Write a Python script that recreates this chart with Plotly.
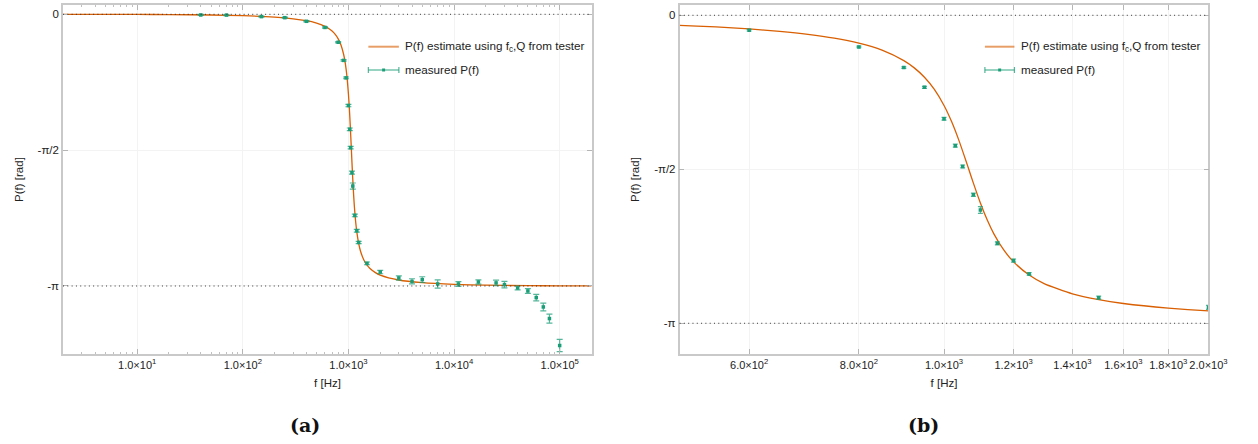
import plotly.graph_objects as go
import math

# ---------------- data ----------------
# phase estimate from the tester's f_c and Q, sampled along frequency
curve_f = [2, 5, 10, 20, 50, 100, 200, 300, 400, 500, 550, 600, 650, 700, 750,
           800, 850, 900, 925, 950, 975, 1000, 1020, 1040, 1060, 1067, 1080,
           1100, 1120, 1140, 1170, 1200, 1250, 1300, 1400, 1500, 1600, 1800,
           2000, 3000, 5000, 10000, 20000, 50000, 100000, 200000]
curve_p = [-0.0003, -0.0008, -0.0016, -0.0032, -0.0080, -0.0161, -0.0331,
           -0.0520, -0.0742, -0.1019, -0.1190, -0.1392, -0.1636, -0.1938,
           -0.2324, -0.2838, -0.3556, -0.4621, -0.5363, -0.6317, -0.7563,
           -0.9197, -1.0842, -1.2785, -1.4937, -1.5708, -1.7120, -1.9143,
           -2.0884, -2.2317, -2.3962, -2.5153, -2.6497, -2.7368, -2.8412,
           -2.9010, -2.9398, -2.9871, -3.0152, -3.0723, -3.1035, -3.1232,
           -3.1325, -3.1380, -3.1398, -3.1407]

# measured phase with its uncertainty
meas_f = [40, 70, 150, 250, 400, 600, 800, 900, 950, 1000, 1030, 1050, 1080,
          1100, 1150, 1200, 1250, 1500, 2000, 3000, 4000, 5000, 7000, 11000,
          17000, 25000, 30000, 40000, 50000, 60000, 70000, 80000, 100000]
meas_p = [-0.008, -0.009, -0.027, -0.039, -0.081, -0.152, -0.323, -0.533,
          -0.735, -1.055, -1.330, -1.542, -1.831, -1.986, -2.326, -2.502,
          -2.638, -2.880, -2.980, -3.049, -3.088, -3.068, -3.118, -3.118,
          -3.095, -3.106, -3.126, -3.164, -3.199, -3.276, -3.384, -3.518,
          -3.830]
meas_err = [0.006, 0.006, 0.006, 0.006, 0.007, 0.008, 0.008, 0.008, 0.010,
            0.014, 0.015, 0.015, 0.017, 0.035, 0.015, 0.016, 0.013, 0.016,
            0.020, 0.025, 0.030, 0.033, 0.048, 0.028, 0.025, 0.033, 0.038,
            0.022, 0.028, 0.038, 0.045, 0.052, 0.070]

# tick labels
ticks_a = [10, 100, 1000, 10000, 100000]
labels_a = ["1.0×10<sup>1</sup>", "1.0×10<sup>2</sup>", "1.0×10<sup>3</sup>",
            "1.0×10<sup>4</sup>", "1.0×10<sup>5</sup>"]
ticks_b = [600, 800, 1000, 1200, 1400, 1600, 1800, 2000]
labels_b = ["6.0×10<sup>2</sup>", "8.0×10<sup>2</sup>", "1.0×10<sup>3</sup>",
            "1.2×10<sup>3</sup>", "1.4×10<sup>3</sup>", "1.6×10<sup>3</sup>",
            "1.8×10<sup>3</sup>", "2.0×10<sup>3</sup>"]
ytick_vals = [0, -math.pi / 2, -math.pi]
ytick_text = ["0", "-π/2", "-π"]

# ---------------- style ----------------
ORANGE = "#d95f02"
GREEN = "#1b9e77"
GREEN_BAR = "rgba(27,158,119,0.75)"
FRAME = "#c9c9c9"
GRID = "#f3f3f3"
FONT = "Liberation Sans, Arial, sans-serif"
TXT = "#222"
W, H = 1258, 444

fig = go.Figure()


def add_panel(xa, ya, cap):
    fig.add_trace(go.Scatter(
        x=curve_f, y=curve_p, mode="lines", xaxis=xa, yaxis=ya,
        line=dict(color=ORANGE, width=1.3, shape="spline", smoothing=0.6),
        showlegend=False, hoverinfo="skip"))
    fig.add_trace(go.Scatter(
        x=meas_f, y=meas_p, mode="markers", xaxis=xa, yaxis=ya,
        marker=dict(color=GREEN, size=3.5, symbol="square"),
        error_y=dict(type="data", array=meas_err, color=GREEN_BAR,
                     thickness=1.2, width=cap),
        showlegend=False))


add_panel("x", "y", 3)
add_panel("x2", "y2", 2.5)

# minor ticks for the wide log axis
minor_a = [k * 10 ** n for n in range(0, 6) for k in range(2, 10)]

common_x = dict(type="log", showline=True, linecolor=FRAME, linewidth=1.5,
                mirror="allticks", ticks="inside", ticklen=5,
                tickcolor="#b5b5b5", showgrid=True, gridcolor=GRID,
                gridwidth=1, zeroline=False, tickmode="array", tickangle=0,
                tickfont=dict(family=FONT, size=11, color=TXT),
                title=dict(text="f [Hz]", standoff=9,
                           font=dict(family=FONT, size=11.5, color=TXT)))
common_y = dict(showline=True, linecolor=FRAME, linewidth=1.5,
                mirror="allticks", ticks="inside", ticklen=5,
                tickcolor="#b5b5b5", showgrid=True, gridcolor=GRID,
                zeroline=False, tickmode="array", tickvals=ytick_vals,
                ticktext=ytick_text,
                tickfont=dict(family=FONT, size=11.5, color=TXT),
                title=dict(text="P(f) [rad]", standoff=12,
                           font=dict(family=FONT, size=11.5, color=TXT)))

xd_a = [64 / W, 601 / W]
xd_b = [690 / W, 1227 / W]
yd = [1 - 354 / H, 1 - 5 / H]

fig.update_layout(
    width=W, height=H, margin=dict(l=0, r=0, t=0, b=0),
    paper_bgcolor="white", plot_bgcolor="white", showlegend=False,
    xaxis=dict(common_x, domain=xd_a, anchor="y",
               range=[math.log10(1.986), math.log10(2.02e5)],
               tickvals=ticks_a, ticktext=labels_a,
               minor=dict(tickmode="array", tickvals=minor_a, ticks="inside",
                          ticklen=2.5, tickcolor="#c0c0c0", showgrid=False)),
    yaxis=dict(common_y, domain=yd, anchor="x", range=[-3.928, 0.1075]),
    xaxis2=dict(common_x, domain=xd_b, anchor="y2",
                range=[math.log10(500), math.log10(2000)],
                tickvals=ticks_b, ticktext=labels_b),
    yaxis2=dict(common_y, domain=yd, anchor="x2", range=[-3.455, 0.105]),
)

# dotted reference lines at 0 and -pi
for xr, yr in (("x domain", "y"), ("x2 domain", "y2")):
    for yv in (0, -math.pi):
        fig.add_shape(type="line", xref=xr, yref=yr, x0=0, x1=1, y0=yv, y1=yv,
                      line=dict(color="#333", width=1, dash="1px,3.3px"),
                      layer="above")


# hand-drawn key in each panel
def px(x):
    return x / W


def py(y):
    return 1 - y / H


KEY_SIZE = 11.7


def add_key(x0, x1):
    y1, y2 = 46.7, 70.0
    fig.add_shape(type="line", xref="paper", yref="paper",
                  x0=px(x0), x1=px(x1), y0=py(y1), y1=py(y1),
                  line=dict(color="rgba(217,95,2,0.6)", width=2))
    fig.add_shape(type="line", xref="paper", yref="paper",
                  x0=px(x0), x1=px(x1), y0=py(y2), y1=py(y2),
                  line=dict(color=GREEN_BAR, width=1.2))
    for xc in (x0, x1):
        fig.add_shape(type="line", xref="paper", yref="paper",
                      x0=px(xc), x1=px(xc), y0=py(y2 - 3), y1=py(y2 + 3),
                      line=dict(color=GREEN_BAR, width=1.2))
    xm = (x0 + x1) / 2
    fig.add_shape(type="rect", xref="paper", yref="paper",
                  x0=px(xm - 1.5), x1=px(xm + 1.5), y0=py(y2 - 1.5),
                  y1=py(y2 + 1.5), line=dict(width=0), fillcolor=GREEN)
    fig.add_annotation(x=px(x1 + 4.5), y=py(y1), xref="paper", yref="paper",
                       xanchor="left", yanchor="middle", showarrow=False,
                       text="P(f) estimate using f<sub>c</sub>,Q from tester",
                       font=dict(family=FONT, size=KEY_SIZE, color=TXT))
    fig.add_annotation(x=px(x1 + 4.5), y=py(y2), xref="paper", yref="paper",
                       xanchor="left", yanchor="middle", showarrow=False,
                       text="measured P(f)",
                       font=dict(family=FONT, size=KEY_SIZE, color=TXT))


add_key(374, 405)
add_key(1000, 1030)

# panel captions
for xc, lab in ((310, "(a)"), (938, "(b)")):
    fig.add_annotation(x=px(xc), y=py(425), xref="paper", yref="paper",
                       xanchor="center", yanchor="middle", showarrow=False,
                       text="<b>" + lab + "</b>",
                       font=dict(family="DejaVu Serif, serif", size=19,
                                 color="#111"))

fig.write_html("out.html")
